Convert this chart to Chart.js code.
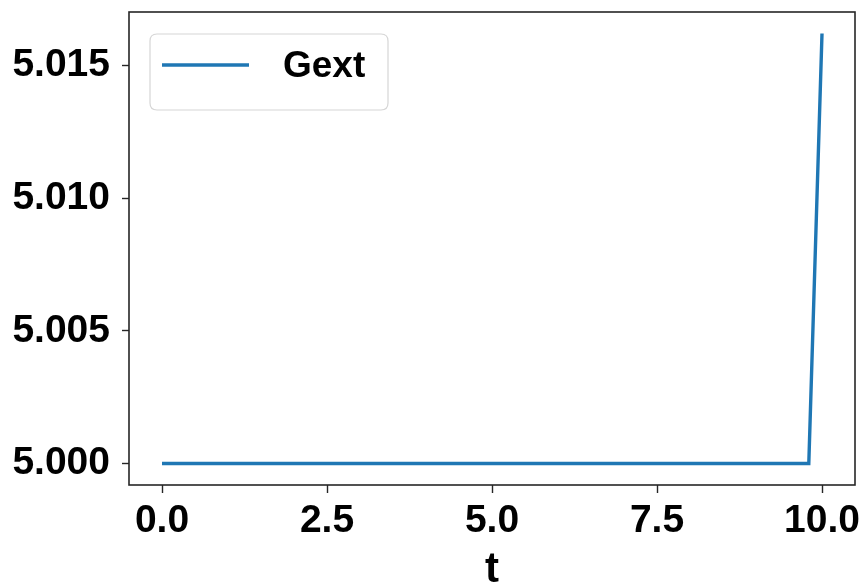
<!DOCTYPE html>
<html>
<head>
<meta charset="utf-8">
<script src="https://cdn.jsdelivr.net/npm/chart.js@4/dist/chart.umd.min.js"></script>
<style>
  html, body { margin: 0; padding: 0; background: #ffffff; }
  #wrap { width: 863px; height: 586px; }
</style>
</head>
<body>
<div id="wrap"><canvas id="c" width="863" height="586"></canvas></div>
<script>
// Time samples where the curve changes (flat until 9.8, then a jump at t = 10)
const tValues = [0.0, 9.8, 10.0];
const gextValues = [5.000, 5.000, 5.0162];
const seriesName = 'Gext';
const xTicks = [0.0, 2.5, 5.0, 7.5, 10.0];
const yTicks = [5.000, 5.005, 5.010, 5.015];
const xTitle = 't';

const FONT = "'Liberation Sans', Arial, Helvetica, sans-serif";
const LINE_COLOR = '#1f77b4';

// Full box around the plotting area, like a classic axes frame
const framePlugin = {
  id: 'frame',
  afterDatasetsDraw(chart) {
    const a = chart.chartArea;
    const ctx = chart.ctx;
    ctx.save();
    ctx.strokeStyle = '#262626';
    ctx.lineWidth = 1.6;
    ctx.strokeRect(a.left, a.top, a.right - a.left, a.bottom - a.top);
    ctx.restore();
  }
};

// Legend drawn inside the plot, upper-left, with a rounded translucent box
const innerLegend = {
  id: 'innerLegend',
  afterDraw(chart) {
    const ctx = chart.ctx;
    const a = chart.chartArea;
    const ds = chart.data.datasets[0];
    const x = a.left + 21, y = a.top + 22, w = 238, h = 76, r = 7;
    ctx.save();
    ctx.beginPath();
    ctx.moveTo(x + r, y);
    ctx.lineTo(x + w - r, y);
    ctx.quadraticCurveTo(x + w, y, x + w, y + r);
    ctx.lineTo(x + w, y + h - r);
    ctx.quadraticCurveTo(x + w, y + h, x + w - r, y + h);
    ctx.lineTo(x + r, y + h);
    ctx.quadraticCurveTo(x, y + h, x, y + h - r);
    ctx.lineTo(x, y + r);
    ctx.quadraticCurveTo(x, y, x + r, y);
    ctx.closePath();
    ctx.fillStyle = 'rgba(255,255,255,0.8)';
    ctx.fill();
    ctx.strokeStyle = '#d6d6d6';
    ctx.lineWidth = 1.2;
    ctx.stroke();

    const cy = y + 31;
    ctx.beginPath();
    ctx.moveTo(x + 12, cy);
    ctx.lineTo(x + 99, cy);
    ctx.strokeStyle = ds.borderColor;
    ctx.lineWidth = ds.borderWidth;
    ctx.stroke();

    ctx.fillStyle = '#000000';
    ctx.font = 'bold 37px ' + FONT;
    ctx.textBaseline = 'middle';
    ctx.textAlign = 'left';
    ctx.fillText(ds.label, x + 133, cy + 2);
    ctx.restore();
  }
};

new Chart(document.getElementById('c'), {
  type: 'line',
  data: {
    datasets: [{
      label: seriesName,
      data: tValues.map((t, i) => ({ x: t, y: gextValues[i] })),
      borderColor: LINE_COLOR,
      backgroundColor: LINE_COLOR,
      borderWidth: 3.4,
      pointRadius: 0,
      tension: 0,
      fill: false
    }]
  },
  options: {
    responsive: false,
    animation: false,
    layout: { padding: { top: 12, right: 8, left: 0, bottom: 0 } },
    plugins: {
      legend: { display: false },
      tooltip: { enabled: false }
    },
    scales: {
      x: {
        type: 'linear',
        min: -0.5,
        max: 10.5,
        afterBuildTicks(scale) { scale.ticks = xTicks.map(v => ({ value: v })); },
        afterFit(scale) {
          scale.height = 101;
          scale.paddingLeft = 0;
          scale.paddingRight = 0;
        },
        grid: { display: true, drawOnChartArea: false, drawTicks: true, tickLength: 8, tickColor: '#262626', tickWidth: 1.4 },
        border: { display: false },
        ticks: {
          color: '#000000',
          padding: 5,
          maxRotation: 0,
          autoSkip: false,
          font: { family: FONT, size: 39, weight: 'bold' },
          callback: v => Number(v).toFixed(1)
        },
        title: {
          display: true,
          text: xTitle,
          color: '#000000',
          padding: { top: 0, bottom: 0 },
          font: { family: FONT, size: 42, weight: 'bold', lineHeight: 0.75 }
        }
      },
      y: {
        type: 'linear',
        min: 4.99919,
        max: 5.01701,
        afterBuildTicks(scale) { scale.ticks = yTicks.map(v => ({ value: v })); },
        afterFit(scale) {
          scale.width = 129;
          scale.paddingTop = 0;
          scale.paddingBottom = 0;
        },
        grid: { display: true, drawOnChartArea: false, drawTicks: true, tickLength: 7, tickColor: '#262626', tickWidth: 1.4 },
        border: { display: false },
        ticks: {
          color: '#000000',
          padding: 12,
          autoSkip: false,
          font: { family: FONT, size: 39, weight: 'bold' },
          callback: v => Number(v).toFixed(3)
        }
      }
    }
  },
  plugins: [framePlugin, innerLegend]
});
</script>
</body>
</html>
